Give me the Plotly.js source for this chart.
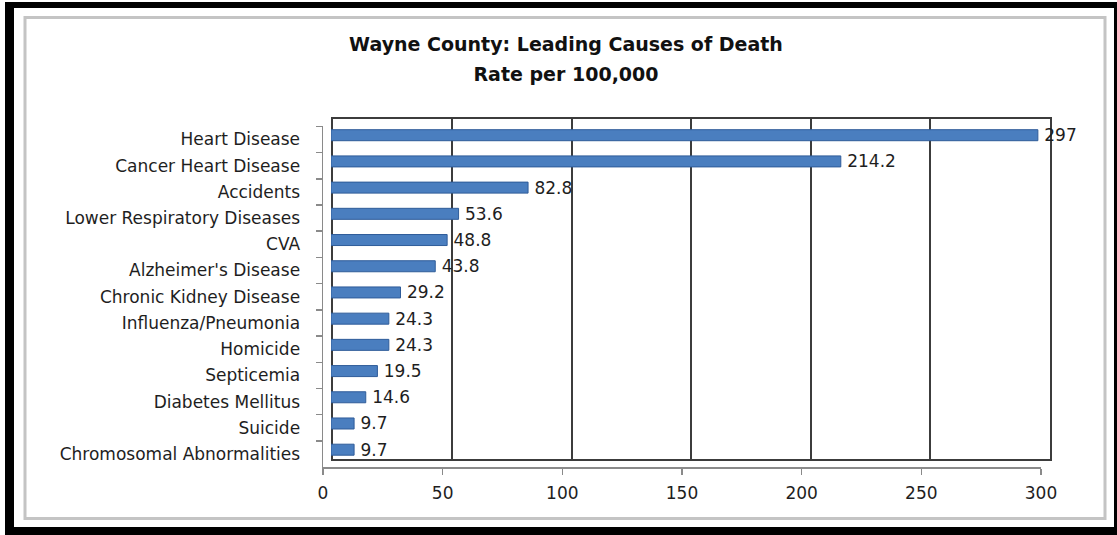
<!DOCTYPE html>
<html>
<head>
<meta charset="utf-8">
<script src="https://cdn.plot.ly/plotly-3.0.1.min.js"></script>
<style>
  html, body { margin: 0; padding: 0; background: #ffffff; }
  #chart { width: 1117px; height: 535px; }
</style>
</head>
<body>
<div id="chart"></div>
<script>
// ---- data ----
const causes = [
  "Heart Disease",
  "Cancer Heart Disease",
  "Accidents",
  "Lower Respiratory Diseases",
  "CVA",
  "Alzheimer's Disease",
  "Chronic Kidney Disease",
  "Influenza/Pneumonia",
  "Homicide",
  "Septicemia",
  "Diabetes Mellitus",
  "Suicide",
  "Chromosomal Abnormalities"
];
const rates = [297, 214.2, 82.8, 53.6, 48.8, 43.8, 29.2, 24.3, 24.3, 19.5, 14.6, 9.7, 9.7];
const xTickVals = [0, 50, 100, 150, 200, 250, 300];
const xTickText = ["0", "50", "100", "150", "200", "250", "300"];
const titleLines = ["Wayne County: Leading Causes of Death", "Rate per 100,000"];

// ---- layout helpers (pixel -> paper) ----
const W = 1117, H = 535;
const px = v => v / W;
const py = v => 1 - v / H;
const FONT = "DejaVu Sans";
const TXT = "#1e1e1e";
const catRange = [causes.length - 0.5, -0.5];

const traces = [
  // back wall (3D chart wall with gridlines)
  { type: "scatter", mode: "markers", x: rates, y: causes, xaxis: "x", yaxis: "y",
    marker: { opacity: 0 }, hoverinfo: "skip", showlegend: false },
  // bars
  { type: "bar", orientation: "h", x: rates, y: causes, xaxis: "x2", yaxis: "y2",
    marker: { color: "#4a7ebf", line: { color: "#2f5c99", width: 1 } },
    text: rates.map(String), texttemplate: "\u2009%{text}", textposition: "outside", cliponaxis: false,
    constraintext: "none",
    textfont: { family: FONT, size: 17, color: TXT },
    hoverinfo: "x+y", showlegend: false },
  // front axes carrying the labels
  { type: "scatter", mode: "markers", x: rates, y: causes, xaxis: "x3", yaxis: "y3",
    marker: { opacity: 0 }, hoverinfo: "skip", showlegend: false }
];

const hiddenAxis = { showgrid: false, zeroline: false, showline: false, showticklabels: false, ticks: "" };
const titleSpan = s => "<span style='font-size:19px'><b>" + s + "</b></span>";

const layout = {
  width: W, height: H,
  margin: { l: 0, r: 0, t: 0, b: 0 },
  paper_bgcolor: "#ffffff",
  plot_bgcolor: "rgba(0,0,0,0)",
  showlegend: false,
  bargap: 0.58,
  font: { family: FONT, size: 17, color: TXT },
  title: {
    text: titleSpan(titleLines[0]) + "<br>" + titleSpan(titleLines[1]),
    font: { family: FONT, size: 23, color: "#111111" },
    x: px(566), xref: "paper", xanchor: "center",
    y: py(51), yref: "container", yanchor: "middle"
  },
  // back wall
  xaxis: { domain: [px(333), px(1049.5)], range: [0, 300], anchor: "y",
    tickvals: xTickVals, showticklabels: false, ticks: "",
    showgrid: true, gridcolor: "#3c3c3c", gridwidth: 2, zeroline: false,
    showline: true, mirror: true, linecolor: "#3c3c3c", linewidth: 2, layer: "below traces" },
  yaxis: { domain: [py(459), py(119)], type: "category", categoryorder: "array", categoryarray: causes,
    range: catRange, anchor: "x", showticklabels: false, ticks: "", showgrid: false, zeroline: false,
    showline: true, mirror: true, linecolor: "#3c3c3c", linewidth: 2, layer: "below traces" },
  // bars (mid depth)
  xaxis2: Object.assign({ domain: [px(331), px(1045)], range: [0, 300], anchor: "y2" }, hiddenAxis),
  yaxis2: Object.assign({ domain: [py(462.8), py(122.1)], type: "category", categoryorder: "array",
    categoryarray: causes, range: catRange, anchor: "x2" }, hiddenAxis),
  // front (labels)
  xaxis3: { domain: [px(323), px(1041)], range: [0, 300], anchor: "y3",
    tickvals: xTickVals, ticktext: xTickText, ticks: "outside", ticklen: 6, tickcolor: "#8a8a8a", tickwidth: 1.5,
    tickfont: { family: FONT, size: 17, color: TXT }, ticklabelstandoff: 4,
    showgrid: false, zeroline: false, showline: true, linecolor: "#8a8a8a", linewidth: 1.5 },
  yaxis3: { domain: [py(467.1), py(126.4)], type: "category", categoryorder: "array", categoryarray: causes,
    range: catRange, anchor: "x3", ticks: "outside", tickson: "boundaries", ticklen: 6,
    tickcolor: "#8a8a8a", tickwidth: 1.5,
    tickfont: { family: FONT, size: 17, color: TXT }, ticklabelstandoff: 18,
    showgrid: false, zeroline: false, showline: true, linecolor: "#8a8a8a", linewidth: 1.5 },
  shapes: [
    // outer black frame
    { type: "rect", xref: "paper", yref: "paper", x0: px(5), x1: px(14), y0: py(535), y1: py(2),
      fillcolor: "#000", line: { width: 0 } },
    { type: "rect", xref: "paper", yref: "paper", x0: px(5), x1: px(1117), y0: py(8), y1: py(2),
      fillcolor: "#000", line: { width: 0 } },
    { type: "rect", xref: "paper", yref: "paper", x0: px(1114), x1: px(1117), y0: py(535), y1: py(2),
      fillcolor: "#000", line: { width: 0 } },
    { type: "rect", xref: "paper", yref: "paper", x0: px(5), x1: px(1117), y0: py(535), y1: py(527),
      fillcolor: "#000", line: { width: 0 } },
    // inner gray chart-area border
    { type: "rect", xref: "paper", yref: "paper", x0: px(25), x1: px(1105), y0: py(518.5), y1: py(17.5),
      line: { color: "#c4c4c4", width: 3 }, fillcolor: "rgba(0,0,0,0)" }
  ]
};

Plotly.newPlot("chart", traces, layout, { displayModeBar: false, staticPlot: true });
</script>
</body>
</html>
